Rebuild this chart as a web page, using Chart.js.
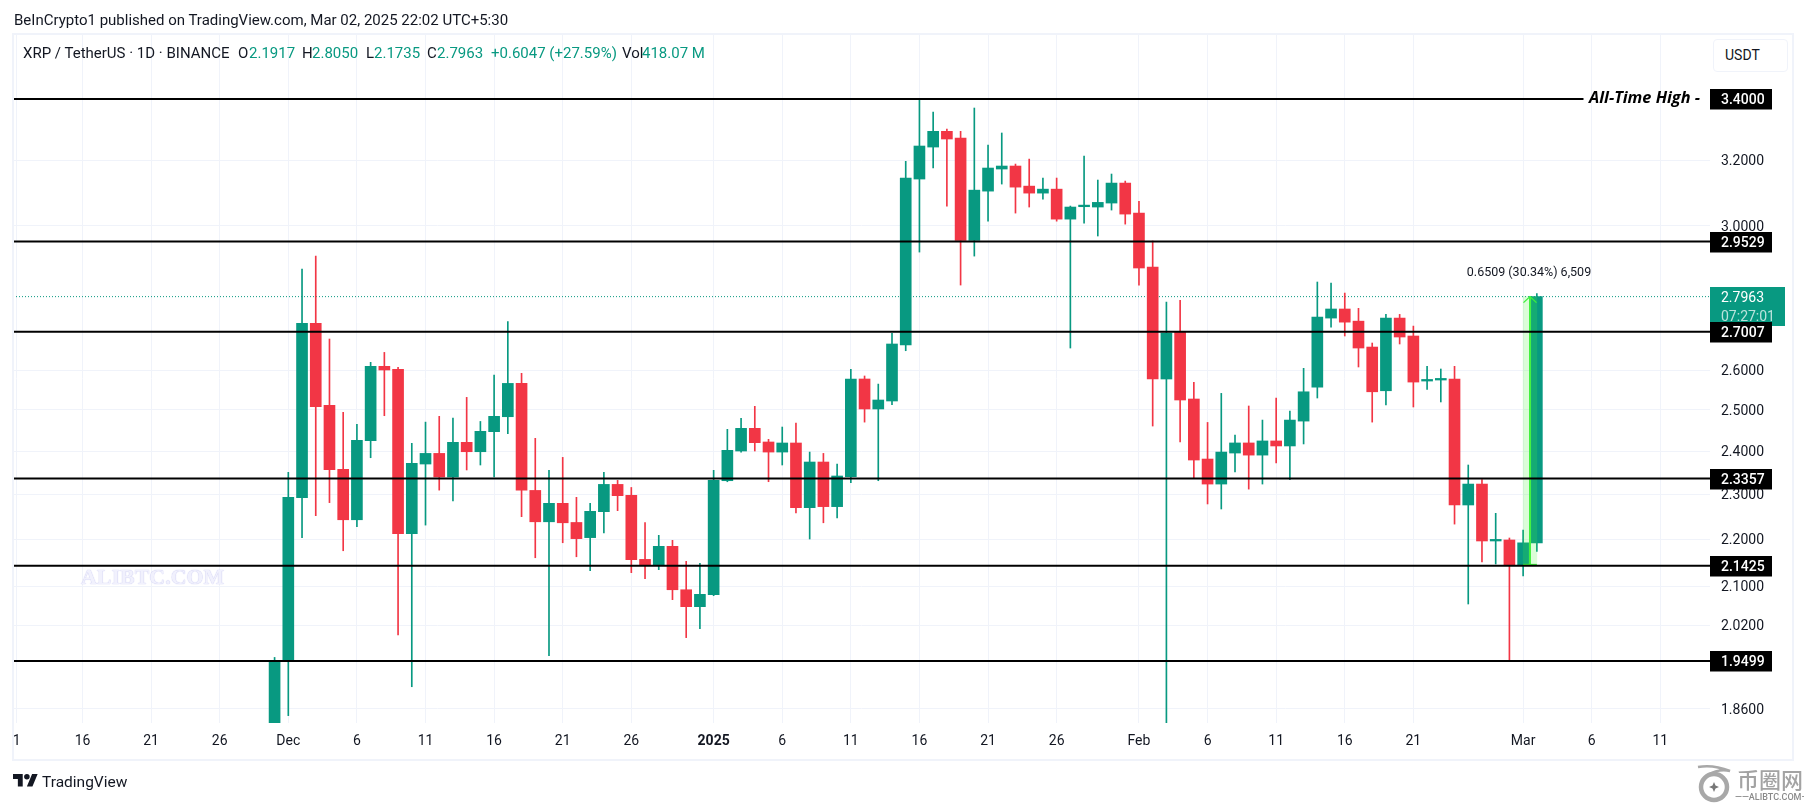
<!DOCTYPE html>
<html><head><meta charset="utf-8">
<script src="https://cdn.jsdelivr.net/npm/chart.js@4"></script>
<style>
html,body{margin:0;padding:0;background:#fff;width:1804px;height:803px;overflow:hidden}
#wrap{position:relative;width:1804px;height:803px;font-family:Roboto,sans-serif;color:#131722}
canvas{position:absolute;left:0;top:0}
.t{position:absolute;white-space:nowrap;font-size:15px;line-height:18px}
#frame{position:absolute;left:12px;top:33px;width:1778px;height:724px;border:2px solid #f0f3fa;pointer-events:none;box-sizing:content-box}
#usdt{position:absolute;left:1713px;top:39px;width:73px;height:31px;border:1px solid #f0f3fa;border-radius:4px;background:#fff}
#wm{position:absolute;left:81px;top:565px;font:bold 21.8px "Liberation Serif",serif;color:#f1f1fd;letter-spacing:.1px;text-shadow:0 0 1px #c9c9f0,0 0 1px #c9c9f0}
</style></head><body><div id="wrap">
<canvas id="c" width="1804" height="803"></canvas>
<div id="frame"></div>
<div id="usdt"></div>
<div class="t" style="left:1725px;top:46px;font-size:14px">USDT</div>
<div class="t" style="left:14px;top:11px">BeInCrypto1 published on TradingView.com, Mar 02, 2025 22:02 UTC+5:30</div>
<div id="wm">ALIBTC.COM</div>
<svg style="position:absolute;left:13px;top:774px" width="25" height="14" viewBox="0 0 36 20"><path fill="#131722" d="M14 18H7V7H0V0h14v18zM28 18h-8L27.5 0h8L28 18z"/><circle cx="20" cy="4" r="4" fill="#131722"/></svg>
<div class="t" style="left:42px;top:772px;font-size:15.5px;line-height:20px">TradingView</div>
<svg style="position:absolute;left:1696px;top:764px" width="38" height="39" viewBox="0 0 38 39"><path d="M2 3C12 1 24 3 34 7 24 5 14 8 9 14" fill="none" stroke="#a8a8a8" stroke-width="2.5"/><circle cx="18" cy="23" r="13" fill="none" stroke="#a8a8a8" stroke-width="4.5"/><path d="M18 18l1.500 3.500 3.500 1.500-3.500 1.500-1.500 3.500-1.500-3.500-3.500-1.500 3.500-1.500z" fill="#777"/></svg>
<div class="t" style="left:1737px;top:764px;font:500 22px/28px 'Noto Sans CJK SC';color:#a3a3a3">币圈网</div>
<div class="t" style="left:1735px;top:792px;font:500 9px/11px Roboto;color:#8a8a8a">——ALIBTC.COM——</div>
</div>
<script>
const categories=["Nov 30","Dec 1","Dec 2","Dec 3","Dec 4","Dec 5","Dec 6","Dec 7","Dec 8","Dec 9","Dec 10","Dec 11","Dec 12","Dec 13","Dec 14","Dec 15","Dec 16","Dec 17","Dec 18","Dec 19","Dec 20","Dec 21","Dec 22","Dec 23","Dec 24","Dec 25","Dec 26","Dec 27","Dec 28","Dec 29","Dec 30","Dec 31",
"Jan 1","Jan 2","Jan 3","Jan 4","Jan 5","Jan 6","Jan 7","Jan 8","Jan 9","Jan 10","Jan 11","Jan 12","Jan 13","Jan 14","Jan 15","Jan 16","Jan 17","Jan 18","Jan 19","Jan 20","Jan 21","Jan 22","Jan 23","Jan 24","Jan 25","Jan 26","Jan 27","Jan 28","Jan 29","Jan 30","Jan 31",
"Feb 1","Feb 2","Feb 3","Feb 4","Feb 5","Feb 6","Feb 7","Feb 8","Feb 9","Feb 10","Feb 11","Feb 12","Feb 13","Feb 14","Feb 15","Feb 16","Feb 17","Feb 18","Feb 19","Feb 20","Feb 21","Feb 22","Feb 23","Feb 24","Feb 25","Feb 26","Feb 27","Feb 28","Mar 1","Mar 2"];
const openP=[1.80,1.9520,2.2920,2.7231,2.5113,2.3572,2.2425,2.4250,2.6100,2.6023,2.2119,2.3696,2.3946,2.3394,2.4210,2.3986,2.4467,2.4831,2.5663,2.3085,2.2380,2.2793,2.2365,2.2032,2.2605,2.3223,2.2973,2.1563,2.1436,2.1843,2.0925,2.0578,
2.0823,2.3308,2.4003,2.4547,2.4218,2.3978,2.4194,2.2695,2.3743,2.2718,2.3402,2.5775,2.5022,2.5220,2.6656,3.1412,3.2422,3.2930,3.2714,2.9564,3.1039,3.1725,3.1819,3.1193,3.0978,3.1100,3.0191,3.0564,3.0554,3.0675,3.1287,
3.0372,2.8795,2.5775,2.6992,2.5270,2.3813,2.3231,2.3955,2.4195,2.3906,2.4243,2.4123,2.4724,2.5569,2.7376,2.7623,2.7293,2.6603,2.5477,2.7376,2.6895,2.5723,2.5749,2.5775,2.2755,2.3231,2.1959,2.1981,2.1443,2.1917];
const highP=[1.9570,2.3502,2.8738,2.9107,2.6815,2.4939,2.4643,2.6203,2.6462,2.6074,2.4186,2.4699,2.4840,2.4798,2.5311,2.4715,2.5877,2.7284,2.5920,2.4306,2.3549,2.3852,2.2928,2.2793,2.3502,2.3316,2.3153,2.2365,2.2082,2.1973,2.1521,2.1478,
2.3549,2.4523,2.4790,2.5088,2.4282,2.4579,2.4675,2.3978,2.3946,2.3696,2.6023,2.5852,2.5646,2.6966,3.1967,3.40,3.3565,3.3005,3.2930,3.3698,3.2487,3.2876,3.1881,3.2038,3.1443,3.1443,3.0584,3.2132,3.1381,3.1568,3.1349,
3.0726,2.9545,2.7815,2.7861,2.5689,2.4691,2.5411,2.4387,2.5096,2.4749,2.5295,2.4972,2.6049,2.8370,2.8341,2.8062,2.7641,2.6709,2.7476,2.7476,2.7160,2.6100,2.6031,2.6100,2.3673,2.3332,2.2568,2.2024,2.2199,2.8050];
const lowP=[1.80,1.8475,2.2032,2.2515,2.2808,2.1748,2.2271,2.3844,2.4856,2.0009,1.9011,2.2307,2.3092,2.2845,2.3557,2.3673,2.3394,2.4419,2.2493,2.1598,1.9602,2.1921,2.1619,2.1326,2.2133,2.2628,2.1282,2.1156,2.1345,2.0721,1.9957,2.0134,
2.0802,2.3284,2.3978,2.4003,2.3285,2.3673,2.2575,2.2002,2.2358,2.2463,2.3262,2.4699,2.3308,2.5129,2.6506,2.9223,3.1756,3.0584,2.8285,2.9107,3.0130,3.1256,3.0372,3.0554,3.0796,3.0130,2.6577,3.0071,2.9691,3.0463,3.0042,
2.8285,2.4603,1.80,2.4218,2.3363,2.2778,2.2665,2.3510,2.3115,2.3231,2.3720,2.3332,2.4171,2.5295,2.7134,2.6895,2.6083,2.4699,2.5121,2.6683,2.5071,2.5510,2.5196,2.2329,2.0632,2.1507,2.1464,1.9499,2.1212,2.1735];
const closeP=[1.9513,2.2928,2.7231,2.5080,2.3565,2.2425,2.4258,2.6100,2.6006,2.2119,2.3712,2.3946,2.3394,2.4210,2.3986,2.4475,2.4840,2.5663,2.3092,2.2380,2.2793,2.2358,2.2010,2.2613,2.3223,2.2965,2.1556,2.1429,2.1843,2.0925,2.0578,2.0830,
2.3316,2.4019,2.4547,2.4202,2.3978,2.4194,2.2695,2.3743,2.2718,2.3417,2.5775,2.5022,2.5245,2.6683,3.1443,3.2455,3.2930,3.2681,2.9564,3.1069,3.1756,3.1819,3.1162,3.0978,3.1100,3.0191,3.0554,3.0584,3.0695,3.1287,3.0342,
2.8766,2.5775,2.6974,2.5245,2.3790,2.3231,2.3978,2.4195,2.3906,2.4243,2.4123,2.4749,2.5451,2.7403,2.7623,2.7266,2.6577,2.5451,2.7376,2.6868,2.5697,2.5749,2.5775,2.2755,2.3231,2.1959,2.1981,2.1443,2.1919,2.7963];
const levelValues=[3.4000,2.9529,2.7007,2.3357,2.1425,1.9499];
const yTicks=[3.2,3.0,2.6,2.5,2.4,2.3,2.2,2.1,2.02,1.86];
const xTickDays=[-19.8,-15,-10,-5,0,5,10,15,20,25,31,36,41,46,51,56,62,67,72,77,82,90,95,100];
const xTickLabels=["1","16","21","26","Dec","6","11","16","21","26","2025","6","11","16","21","26","Feb","6","11","16","21","Mar","6","11"];
const lastPrice=2.7963, countdown="07:27:01";
const measureLow=2.1454, measureHigh=2.7963, measureText="0.6509 (30.34%) 6,509";
const legendParts=[["XRP / TetherUS · 1D · BINANCE",23,"#131722"],["O",238,"#131722"],["2.1917",249,"#089981"],["H",302,"#131722"],["2.8050",312,"#089981"],["L",366,"#131722"],["2.1735",374,"#089981"],["C",427,"#131722"],["2.7963",437,"#089981"],["+0.6047 (+27.59%)",491,"#089981"],["Vol",622,"#131722"],["418.07 M",642,"#089981"]];

const wrap=document.getElementById('wrap');
legendParts.forEach(([txt,x,col])=>{const d=document.createElement('div');d.className='t';d.textContent=txt;d.style.cssText='left:'+x+'px;top:44px;color:'+col;wrap.appendChild(d);});

const UP='#089981',DOWN='#F23645',GRID='#f0f3fa',FONT='Roboto';
const dayOf=i=>i-1;
const xMin=-20.066,xMax=103.62,yMin=1.8341,yMax=3.6258,athEnd=94.4;
const colors=closeP.map((c,i)=>c>=openP[i]?UP:DOWN);
const wicks=categories.map((_,i)=>({x:dayOf(i),y:[lowP[i],highP[i]]}));
const bodies=categories.map((_,i)=>({x:dayOf(i),y:[openP[i],closeP[i]]}));
const mDay=dayOf(categories.length-1)-0.5;

const levelSets=levelValues.map((v,i)=>({type:'line',label:'Level '+v,data:[{x:xMin,y:v},{x:i===0?athEnd:xMax,y:v}],borderColor:'#000',borderWidth:2,pointRadius:0,order:1}));

const overlay={id:'overlay',afterDraw(ch){
  const g=ch.ctx,Y=ch.scales.y,X=ch.scales.x;
  g.save();
  const cx=X.getPixelForValue(mDay),ty=Y.getPixelForValue(measureHigh);
  g.strokeStyle='#3df03d';g.lineWidth=1.3;g.beginPath();g.moveTo(cx-6.5,ty+6);g.lineTo(cx,ty);g.lineTo(cx+6.5,ty+6);g.stroke();
  g.fillStyle='#131722';g.font='12.5px '+FONT;g.textAlign='center';g.textBaseline='middle';
  g.fillText(measureText,cx-1,ty-24);
  const area=ch.chartArea,bx=area.right;
  g.fillStyle=UP;g.fillRect(bx,Math.round(ty)-10,75,39);
  g.textAlign='left';g.font='14px '+FONT;g.fillStyle='#fff';
  g.fillText(lastPrice.toFixed(4),bx+11,ty+2);
  g.fillStyle='rgba(255,255,255,.72)';g.fillText(countdown,bx+11,ty+20.5);
  levelValues.forEach(v=>{const py=Math.round(Y.getPixelForValue(v));
    g.fillStyle='#000';g.fillRect(bx,py-10,62,20.5);
    g.fillStyle='#fff';g.font='500 14px '+FONT;g.fillText(v.toFixed(4),bx+11,py+1.5);});
  const ay=Y.getPixelForValue(levelValues[0]);
  g.fillStyle='#000';g.font='italic 700 16.3px "Open Sans"';g.textAlign='left';
  g.fillText('All-Time High -',1589,ay-0.5);
  g.restore();
}};

new Chart(document.getElementById('c'),{
 type:'bar',
 data:{datasets:[
  ...levelSets,
  {type:'bar',label:'Measure',data:[{x:mDay,y:[measureLow,measureHigh]}],backgroundColor:'rgba(76,245,60,.2)',barThickness:13.7,order:2},
  {type:'bar',label:'Measure stem',data:[{x:mDay,y:[measureLow,measureHigh]}],backgroundColor:'#3df03d',barThickness:1.3,order:2},
  {type:'line',label:'Measure base',data:[{x:mDay-0.5,y:measureLow},{x:mDay+0.5,y:measureLow}],borderColor:'#3df03d',borderWidth:1.3,pointRadius:0,order:2},
  {type:'bar',label:'Body',data:bodies,backgroundColor:colors,barThickness:11,minBarLength:1.6,order:3},
  {type:'bar',label:'Wick',data:wicks,backgroundColor:colors,barThickness:1,order:4},
  {type:'line',label:'Last',data:[{x:xMin,y:lastPrice},{x:xMax,y:lastPrice}],borderColor:UP,borderWidth:1,borderDash:[1,2],pointRadius:0,order:5}
 ]},
 options:{
  responsive:false,animation:false,devicePixelRatio:1,
  layout:{padding:{left:13,top:34,right:12,bottom:45}},
  plugins:{legend:{display:false},tooltip:{enabled:false}},
  scales:{
   x:{type:'linear',stacked:true,offset:false,min:xMin,max:xMax,
      afterFit:s=>{s.height=35;},
      afterBuildTicks:s=>{s.ticks=xTickDays.map(v=>({value:v}));},
      grid:{color:GRID,lineWidth:1,drawTicks:false,offset:false},border:{display:false},
      ticks:{autoSkip:false,maxRotation:0,padding:10,color:'#131722',
        font:c=>({family:FONT,size:14,weight:(c.tick&&c.tick.label==='2025')?'bold':'normal'}),
        callback:(v,i)=>xTickLabels[i]}},
   y:{type:'logarithmic',position:'right',min:yMin,max:yMax,
      afterFit:s=>{s.width=82;},
      afterBuildTicks:s=>{s.ticks=yTicks.map(v=>({value:v}));},
      grid:{color:GRID,lineWidth:1,drawTicks:false},border:{display:false},
      ticks:{padding:11,labelOffset:1.5,color:'#131722',font:{family:FONT,size:14},callback:v=>Number(v).toFixed(4)}}
  }
 },
 plugins:[overlay]
});
</script></body></html>
